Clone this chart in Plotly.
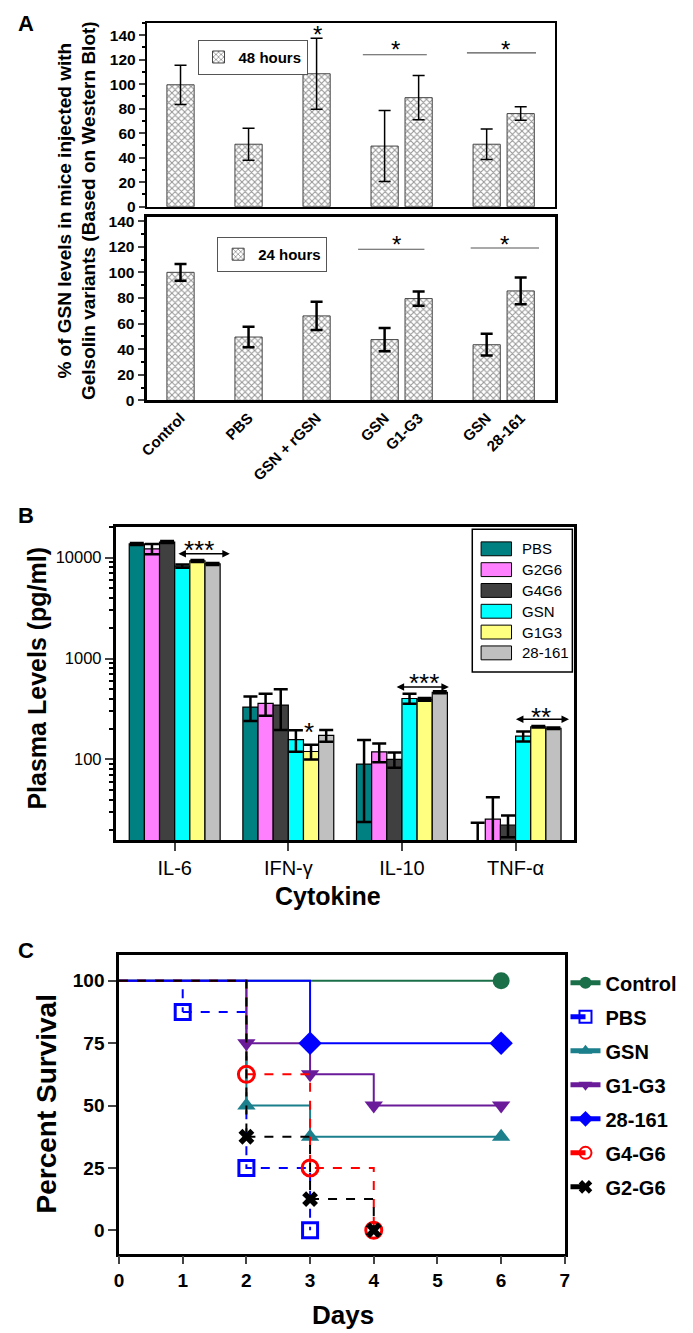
import math
import plotly.graph_objects as go

W, H = 693, 1333
FONT = "Liberation Sans, Arial, Helvetica, sans-serif"

# ---------------- Panel A data ----------------
a_groups = [["Control"], ["PBS"], ["GSN + rGSN"], ["GSN", "G1-G3"], ["GSN", "28-161"]]
a48_values = [99.5, 51, 108.5, 49.5, 89, 51, 76]
a48_errors = [16, 13, 29, 29, 18, 12.5, 5.5]
a24_values = [100, 49.5, 66, 47.5, 79.5, 43.5, 85.5]
a24_errors = [6.5, 8, 11, 9, 5.5, 8.5, 10.5]
a_ticks = [0, 20, 40, 60, 80, 100, 120, 140]

# ---------------- Panel B data ----------------
cytokines = ["IL-6", "IFN-γ", "IL-10", "TNF-α"]
b_names = ["PBS", "G2G6", "G4G6", "GSN", "G1G3", "28-161"]
b_pbs = [13700, 331, 90, 8]
b_pbs_err = [300, 90, 66, 15.6]
b_g2g6 = [12240, 360, 119, 25.6]
b_g2g6_err = [1450, 88, 25, 16.7]
b_g4g6 = [14300, 346, 100, 22.4]
b_g4g6_err = [300, 150, 17, 5.5]
b_gsn = [8240, 157, 402, 170]
b_gsn_err = [300, 38, 46, 19]
b_g1g3 = [9290, 120, 394, 211]
b_g1g3_err = [200, 20, 13, 4]
b_28161 = [8680, 173, 464, 204]
b_28161_err = [200, 23, 10, 3]
b_ticks = [100, 1000, 10000]

# ---------------- Panel C data ----------------
c_names = ["Control", "PBS", "GSN", "G1-G3", "28-161", "G4-G6", "G2-G6"]
control_days, control_pct = [0, 6], [100, 100]
pbs_days, pbs_pct = [0, 1, 2, 3], [100, 87.5, 25, 0]
gsn_days, gsn_pct = [0, 2, 3, 6], [100, 50, 37.5, 37.5]
g1g3_days, g1g3_pct = [0, 2, 3, 4, 6], [100, 75, 62.5, 50, 50]
s28_days, s28_pct = [0, 3, 6], [100, 75, 75]
g4g6_days, g4g6_pct = [0, 2, 3, 4], [100, 62.5, 25, 0]
g2g6_days, g2g6_pct = [0, 2, 3, 4], [100, 37.5, 12.5, 0]
c_day_ticks = [0, 1, 2, 3, 4, 5, 6, 7]
c_pct_ticks = [0, 25, 50, 75, 100]


def fx(px):
    return px / W


def fy(py):
    return 1 - py / H


fig = go.Figure()

# ---- Panel A bars ----
a_labels, a_pos = [], []
cursor = 1
for grp in a_groups:
    for i, lab in enumerate(grp):
        a_labels.append(lab)
        a_pos.append(cursor + i)
    cursor += len(grp) + 1

hatch = dict(shape="x", fgcolor="#2a2a2a", bgcolor="white", size=4.5, solidity=0.4)

fig.add_trace(go.Bar(
    x=a_pos, y=a48_values, width=0.8, name="48 hours",
    marker=dict(color="white", line=dict(color="#444444", width=1), pattern=hatch),
    error_y=dict(type="data", array=a48_errors, color="black", thickness=1.5, width=6),
    xaxis="x", yaxis="y", legend="legend"))
fig.add_trace(go.Bar(
    x=a_pos, y=a24_values, width=0.8, name="24 hours",
    marker=dict(color="white", line=dict(color="#444444", width=1), pattern=hatch),
    error_y=dict(type="data", array=a24_errors, color="black", thickness=2.5, width=6),
    xaxis="x2", yaxis="y2", legend="legend2"))

# ---- Panel B bars ----
b_vals = [b_pbs, b_g2g6, b_g4g6, b_gsn, b_g1g3, b_28161]
b_errs = [b_pbs_err, b_g2g6_err, b_g4g6_err, b_gsn_err, b_g1g3_err, b_28161_err]
b_colors = ["#008080", "#ff80ff", "#404040", "#00ffff", "#ffff80", "#c0c0c0"]
for name, vals, errs, col in zip(b_names, b_vals, b_errs, b_colors):
    fig.add_trace(go.Bar(
        x=list(range(len(cytokines))), y=vals, name=name, showlegend=False,
        marker=dict(color=col, line=dict(color="black", width=1.2)),
        error_y=dict(type="data", array=errs, color="black", thickness=2.5, width=7),
        xaxis="x3", yaxis="y3"))

# ---- Panel C survival ----
c_data = [(control_days, control_pct), (pbs_days, pbs_pct), (gsn_days, gsn_pct),
          (g1g3_days, g1g3_pct), (s28_days, s28_pct), (g4g6_days, g4g6_pct),
          (g2g6_days, g2g6_pct)]
c_styles = [
    dict(color="#1a6e48", dash="solid", symbol="circle", size=17, mlw=0),
    dict(color="#0000ff", dash="dash", symbol="square-open", size=15, mlw=3),
    dict(color="#1b7f8c", dash="solid", symbol="triangle-up", size=16, mlw=0),
    dict(color="#6a1b9a", dash="solid", symbol="triangle-down", size=16, mlw=0),
    dict(color="#0000ff", dash="solid", symbol="diamond", size=18, mlw=0),
    dict(color="#ff0000", dash="dash", symbol="circle-open", size=16, mlw=3),
    dict(color="#000000", dash="dash", symbol="x", size=14, mlw=0),
]
for name, (days, pct), st in zip(c_names, c_data, c_styles):
    fig.add_trace(go.Scatter(
        x=days[:2], y=pct[:2], mode="lines",
        line=dict(color=st["color"], width=2, dash=st["dash"], shape="hv"),
        showlegend=False, hoverinfo="skip", xaxis="x4", yaxis="y4"))
    fig.add_trace(go.Scatter(
        x=days[1:], y=pct[1:], mode="lines+markers", name=name,
        line=dict(color=st["color"], width=2, dash=st["dash"], shape="hv"),
        marker=dict(symbol=st["symbol"], size=st["size"], color=st["color"],
                    line=dict(color=st["color"], width=st["mlw"])),
        legendgroup=name, xaxis="x4", yaxis="y4", legend="legend4"))

tick_font_a = dict(family=FONT, size=15.5, color="black", weight="bold")
common = dict(showline=True, linecolor="black", mirror=True, showgrid=False, zeroline=False)

fig.update_layout(
    width=W, height=H, autosize=False,
    margin=dict(l=0, r=0, t=0, b=0),
    paper_bgcolor="white", plot_bgcolor="white",
    barmode="group", bargap=0.2, bargroupgap=0,
    font=dict(family=FONT, color="black"),
    xaxis=dict(domain=[fx(133), fx(549)], range=[0, 12], anchor="y", showticklabels=False,
               ticks="", linewidth=1.5, **common),
    yaxis=dict(domain=[fy(196.5), fy(11)], range=[0, 150], anchor="x", tickvals=a_ticks,
               ticks="outside", ticklen=6, tickwidth=1.5, tickfont=tick_font_a, linewidth=1.5,
               minor=dict(dtick=10, ticks="outside", ticklen=3, tickwidth=1.5, tickcolor="black"),
               **common),
    xaxis2=dict(domain=[fx(133), fx(549)], range=[0, 12], anchor="y2", tickvals=a_pos,
                ticktext=a_labels, tickangle=-45, ticks="", linewidth=3,
                tickfont=dict(family=FONT, size=15, color="black", weight="bold"), **common),
    yaxis2=dict(domain=[fy(392), fy(206.7)], range=[0, 143.3], anchor="x2", tickvals=a_ticks,
                ticks="outside", ticklen=6, tickwidth=1.5, tickfont=tick_font_a, linewidth=3,
                minor=dict(dtick=10, ticks="outside", ticklen=3, tickwidth=1.5, tickcolor="black"),
                **common),
    xaxis3=dict(domain=[fx(101.5), fx(569)], range=[-0.52, 3.517], anchor="y3",
                tickvals=list(range(len(cytokines))), ticktext=cytokines, ticks="outside",
                ticklen=8, tickwidth=2, linewidth=2.5,
                tickfont=dict(family=FONT, size=20, color="black"), **common),
    yaxis3=dict(domain=[fy(835.7), fy(519.3)], type="log", range=[1.2, 4.308], anchor="x3",
                tickvals=b_ticks, ticktext=[str(t) for t in b_ticks], ticks="outside",
                ticklen=8, tickwidth=2, linewidth=2.5,
                tickfont=dict(family=FONT, size=16.5, color="black"),
                minor=dict(tickvals=[m * d for d in (10, 100, 1000, 10000) for m in range(2, 10)],
                           ticks="outside", ticklen=4, tickwidth=1.5, tickcolor="black"),
                **common),
    xaxis4=dict(domain=[fx(105), fx(559.3)], range=[0, 7], anchor="y4", tickvals=c_day_ticks,
                ticks="outside", ticklen=8, tickwidth=2, linewidth=2.5,
                tickfont=dict(family=FONT, size=19, color="black", weight="bold"), **common),
    yaxis4=dict(domain=[fy(1253), fy(951.7)], range=[-9.4, 110.3], anchor="x4", tickvals=c_pct_ticks,
                ticks="outside", ticklen=8, tickwidth=2, linewidth=2.5,
                tickfont=dict(family=FONT, size=19, color="black", weight="bold"), **common),
    legend=dict(x=fx(185), y=fy(28), xanchor="left", yanchor="top", bgcolor="white",
                bordercolor="#555555", borderwidth=1,
                font=dict(family=FONT, size=15, color="black", weight="bold")),
    legend2=dict(x=fx(205), y=fy(227), xanchor="left", yanchor="top", bgcolor="white",
                 bordercolor="#555555", borderwidth=1,
                 font=dict(family=FONT, size=15, color="black", weight="bold")),
    legend4=dict(x=fx(560), y=fy(960), xanchor="left", yanchor="top", bgcolor="rgba(0,0,0,0)",
                 borderwidth=0, traceorder="grouped", tracegroupgap=5, itemsizing="constant",
                 font=dict(family=FONT, size=20, color="black", weight="bold")),
)

ann = []
shapes = []


def text(x, y, t, size, bold=True, angle=0, xanchor="center", yanchor="middle"):
    ann.append(dict(x=x, y=y, xref="paper", yref="paper", text=t, showarrow=False,
                    textangle=angle, xanchor=xanchor, yanchor=yanchor,
                    font=dict(family=FONT, size=size, color="black",
                              weight="bold" if bold else "normal")))


text(fx(10), fy(12), "A", 22)
text(fx(10), fy(508), "B", 22)
text(fx(10), fy(947), "C", 22)
text(fx(62), fy(200), "% of GSN levels in mice injected with<br>Gelsolin variants (Based on Western Blot)", 19, angle=-90)
text(fx(21), fy(672), "Plasma Levels (pg/ml)", 25, angle=-90)
text(fx(318), fy(892), "Cytokine", 25)
text(fx(31), fy(1102), "Percent Survival", 28, angle=-90)
text(fx(333), fy(1315), "Days", 26)


def star(x, y, t, xr, yr, size):
    ann.append(dict(x=x, y=y, xref=xr, yref=yr, text=t, showarrow=False, yshift=-0.24 * size,
                    font=dict(family=FONT, size=size, color="black")))


# Panel A stars
star(5.03, 145, "*", "x", "y", 24)
star(7.33, 133, "*", "x", "y", 24)
star(10.54, 133, "*", "x", "y", 24)
star(7.34, 126, "*", "x2", "y2", 24)
star(10.53, 126, "*", "x2", "y2", 24)

# Panel B stars and double arrows (annotation positions on log axis are log10 units)
star(0.21, math.log10(13900), "***", "x3", "y3", 26)
star(1.184, math.log10(215), "*", "x3", "y3", 26)
star(2.198, math.log10(664), "***", "x3", "y3", 26)
star(3.22, math.log10(307), "**", "x3", "y3", 26)
for x0, x1, yv in [(0.02, 0.485, 10940), (1.94, 2.413, 522), (2.99, 3.47, 251)]:
    ann.append(dict(x=x1, y=math.log10(yv), ax=x0, ay=math.log10(yv), xref="x3", yref="y3",
                    axref="x3", ayref="y3", text="", showarrow=True, arrowhead=2,
                    arrowside="end+start", arrowsize=1, arrowwidth=1.5, arrowcolor="black"))

# Panel B legend (box with wide colour swatches)
shapes.append(dict(type="rect", xref="paper", yref="paper", x0=fx(465), x1=fx(567),
                   y0=fy(666), y1=fy(522), line=dict(color="black", width=1.5),
                   fillcolor="white", layer="above"))
for i, (name, col) in enumerate(zip(b_names, b_colors)):
    yc = 541.7 + 21 * i
    shapes.append(dict(type="rect", xref="paper", yref="paper", x0=fx(474), x1=fx(505),
                       y0=fy(yc + 7), y1=fy(yc - 7), line=dict(color="black", width=1),
                       fillcolor=col, layer="above"))
    text(fx(514), fy(yc), name, 15, bold=False, xanchor="left")

# Panel A significance lines
for (x0, x1, yv, xr, yr) in [(6.36, 8.24, 124, "x", "y"), (9.42, 11.45, 125.5, "x", "y"),
                             (6.22, 8.17, 118, "x2", "y2"), (9.53, 11.54, 119, "x2", "y2")]:
    shapes.append(dict(type="line", x0=x0, x1=x1, y0=yv, y1=yv, xref=xr, yref=yr,
                       line=dict(color="#555555", width=1.2)))

fig.update_layout(annotations=ann, shapes=shapes)

fig.write_html("out.html")
